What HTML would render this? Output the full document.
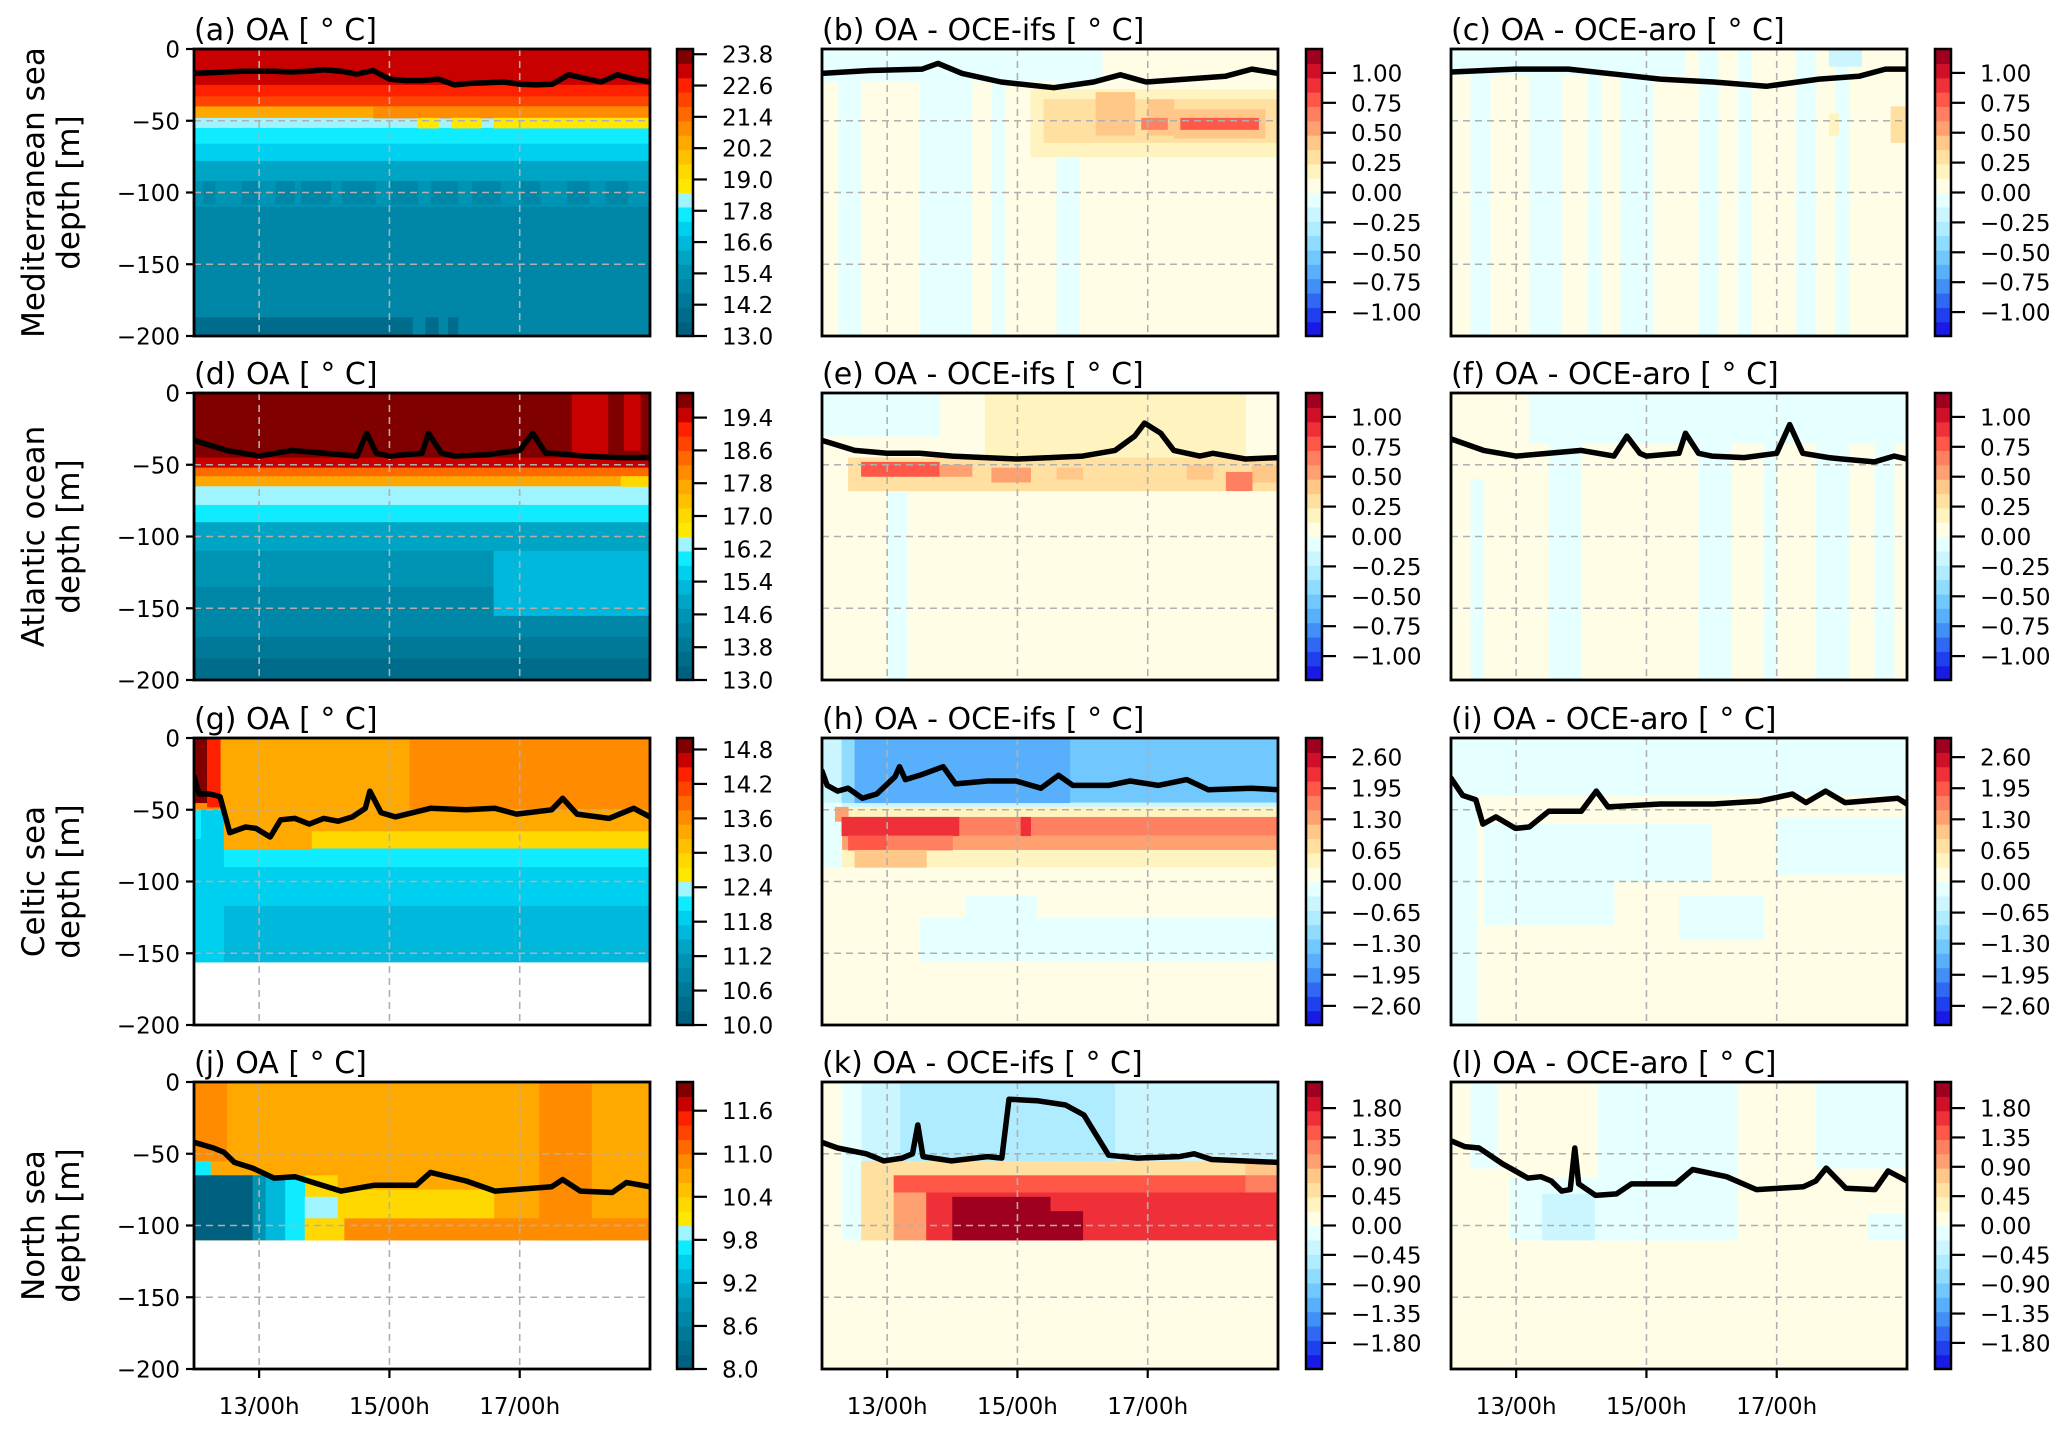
<!DOCTYPE html>
<html><head><meta charset="utf-8"><style>
html,body{margin:0;padding:0;background:#fff;}
svg{display:block;}
</style></head><body>
<svg id="fig" width="2067" height="1434" xmlns="http://www.w3.org/2000/svg" font-family="'DejaVu Sans','Liberation Sans',sans-serif"></svg>
<script>
// ---------- colormaps (styles) ----------
const OA_COLORS=['#00607f','#006c8c','#007898','#0086a6','#0094b4','#00a4c4','#00b8dc','#00d0f0','#10ecff','#a0f4ff','#ffe800','#ffd800','#ffc000','#ffa800','#ff8c00','#ff6a00','#ff4400','#ff2000','#c80000','#800000'];
const DIFF_COLORS=['#1a1ae6','#2040f0','#3068f4','#4090f8','#58b0fc','#70c8ff','#90dcff','#b0ecff','#ccf6ff','#e6ffff','#fffde6','#fff4c0','#ffe0a0','#ffc888','#ffa070','#ff8060','#ff5848','#f03038','#d01028','#a00020'];

// ---------- Panel (a) Mediterranean OA ----------
const aEdges=[0,25,33,40,48,55,66,78,92,110,187,200];
const aValues=[23.2,22.6,22.1,20.4,18.2,17.7,17.1,16.0,15.5,14.9,14.9];
const aPatches=[[14.75,19,40,48,21.0],[15.43,15.75,48,55,18.78],[15.95,16.4,48,55,18.78],[16.6,19,48,55,18.78],
[12.14,12.32,92,108,14.9],[12.73,12.97,92,108,14.9],[13.25,13.54,92,108,14.9],[13.64,14.1,92,108,14.9],[14.27,14.78,92,108,14.9],[15.02,15.43,92,108,14.9],[15.64,16.05,92,108,14.9],[16.27,16.7,92,108,14.9],[17.02,17.31,92,108,14.9],[17.73,18.06,92,108,14.9],[18.32,18.66,92,108,14.9],
[12,15.35,187,200,13.8],[15.55,15.75,187,200,13.8],[15.9,16.05,187,200,13.8]];
const aMldTimes=[12,12.25,12.5,12.75,13,13.25,13.5,13.75,14,14.25,14.5,14.75,15,15.25,15.5,15.75,16,16.25,16.5,16.75,17,17.25,17.5,17.75,18,18.25,18.5,18.75,19];
const aMldDepths=[17,16.5,16,15.5,15.5,15.5,16,15.5,14.5,15.5,17.5,15,21,22,22,21,25,24,23.5,23,24.5,25,24.5,18,20.5,23,18,21,23];
const aTicks=[13.0,14.2,15.4,16.6,17.8,19.0,20.2,21.4,22.6,23.8];

// ---------- Panel (b) ----------
const bEdges=[0,200];
const bValues=[0.06];
const bPatches=[[12,16.3,0,22,-0.06],[12.25,12.6,0,200,-0.06],[13.5,14.3,22,200,-0.06],[14.6,14.8,22,200,-0.06],[15.6,15.95,22,200,-0.06],
[15.2,19,28,75,0.18],[15.4,19,35,65,0.30],[16.2,16.8,30,60,0.42],[17.0,17.4,35,60,0.42],[17.4,18.8,42,62,0.42],[16.9,17.3,48,56,0.66],[17.5,18.7,48,56,0.78]];
const bMldTimes=[12,12.73,13.54,13.78,14.15,14.75,15.56,16.17,16.58,16.98,17.59,18.19,18.6,19];
const bMldDepths=[17,15,14,10,17,23,27,23,18,23,21,19,14,17];

// ---------- Panel (c) ----------
const cEdges=[0,200];
const cValues=[0.06];
const cPatches=[[12,15.6,0,18,-0.06],[12.3,12.6,18,200,-0.06],[13.2,13.7,18,200,-0.06],[14.1,14.3,18,200,-0.06],[14.6,15.1,18,200,-0.06],[15.8,16.1,0,200,-0.06],[16.4,16.6,0,200,-0.06],[17.3,17.6,0,200,-0.06],[17.9,18.1,12,200,-0.06],[17.8,18.3,0,12,-0.18],[18.75,19,40,65,0.30],[17.8,17.95,45,60,0.18]];
const cMldTimes=[12,12.99,13.8,14.61,15.21,16.03,16.84,17.65,18.26,18.67,19];
const cMldDepths=[16,14,14,18,21,23,26,21,19,14,14];
const diffTicks1=[-1.00,-0.75,-0.50,-0.25,0.00,0.25,0.50,0.75,1.00];

// ---------- Panel (d) Atlantic OA ----------
const dEdges=[0,45,52,58,65,78,90,110,135,170,185,200];
const dValues=[19.83,19.48,18.43,17.73,16.33,15.98,14.93,14.58,14.23,13.88,13.53];
const dPatches=[[17.8,18.35,0,45,19.48],[18.6,18.85,0,40,19.48],[18.55,19,58,65,17.03],[16.6,19,110,155,15.28]];
const dMldTimes=[12,12.5,13,13.5,14,14.5,14.65,14.8,15,15.5,15.6,15.8,16,16.5,17,17.2,17.4,17.5,18,18.5,19];
const dMldDepths=[33,40,44,40,42,44,28,42,44,42,28,42,44,43,40,28,42,42,44,45,45];
const dTicks=[13.0,13.8,14.6,15.4,16.2,17.0,17.8,18.6,19.4];

// ---------- Panel (e) ----------
const eEdges=[0,200];
const eValues=[0.06];
const ePatches=[[12,13.8,0,30,-0.06],[14.5,18.5,0,45,0.18],[13.0,13.3,68,200,-0.06],[12.4,19,45,68,0.30],[12.6,13.8,48,58,0.78],[13.8,14.3,50,58,0.54],[14.6,15.2,52,62,0.54],[15.6,16.0,52,60,0.42],[17.6,18.0,50,60,0.42],[18.6,19,50,62,0.42],[18.2,18.6,55,68,0.66]];
const eMldTimes=[12,12.5,13,13.5,14,14.5,15,15.5,16,16.5,16.8,16.95,17.2,17.4,17.8,18,18.5,19];
const eMldDepths=[33,40,42,42,44,45,46,45,44,40,30,21,28,40,44,42,46,45];

// ---------- Panel (f) ----------
const fEdges=[0,200];
const fValues=[0.06];
const fPatches=[[13.2,19,0,35,-0.06],[13.5,14.0,35,200,-0.06],[15.8,16.3,35,200,-0.06],[16.8,17.0,35,200,-0.06],[17.6,18.1,35,200,-0.06],[18.5,18.8,35,200,-0.06],[12.3,12.5,60,200,-0.06]];
const fMldTimes=[12,12.5,13,13.5,14,14.5,14.7,14.9,15,15.5,15.6,15.8,16,16.5,17,17.2,17.4,17.8,18,18.5,18.8,19];
const fMldDepths=[32,40,44,42,40,44,30,42,44,42,28,42,44,45,42,22,42,45,46,48,44,46];

// ---------- Panel (g) Celtic OA ----------
const gEdges=[0,50,65,77,90,117,140,156];
const gValues=[13.63,13.38,12.88,12.13,11.88,11.63,11.63];
const gPatches=[[12.4,15.3,0,50,13.38],[12,12.2,0,45,14.88],[12.2,12.4,0,48,14.38],[12.45,13.8,65,77,13.38],[12,12.45,50,156,11.88],[12,12.1,50,70,12.13]];
const gMldTimes=[12,12.08,12.24,12.33,12.4,12.55,12.79,12.95,13.17,13.33,13.55,13.77,13.99,14.21,14.43,14.63,14.7,14.87,15.09,15.63,16.18,16.62,16.95,17.49,17.66,17.88,18.37,18.75,19];
const gMldDepths=[27,39,39,40,41,66,62,63,69,57,56,60,56,58,55,49,37,52,55,49,50,49,53,50,42,53,56,49,55];
const gTicks=[10.0,10.6,11.2,11.8,12.4,13.0,13.6,14.2,14.8];

// ---------- Panel (h) ----------
const hEdges=[0,45,48,55,68,78,90,200];
const hValues=[-1.35,-0.45,0.45,1.65,1.35,0.45,0.15];
const hPatches=[[12,12.3,0,45,-0.45],[12.3,12.5,0,45,-1.0],[12.5,15.8,0,45,-1.65],[12,12.3,45,90,-0.15],[12.2,12.4,48,58,1.35],[12.3,14.1,55,68,2.25],[15.05,15.2,55,68,2.25],[12.4,13.0,68,78,1.95],[13.0,14.0,68,78,1.65],[12.5,13.6,78,90,1.05],[14.2,15.3,110,140,-0.15],[13.5,19,125,155,-0.15]];
const hMldTimes=[12,12.08,12.24,12.4,12.62,12.84,13.12,13.19,13.28,13.5,13.86,14.05,14.54,14.98,15.36,15.63,15.85,16.4,16.73,17.16,17.6,17.93,18.59,19];
const hMldDepths=[23,33,37,35,42,39,27,20,29,26,20,32,30,30,35,26,33,33,30,33,29,36,35,36];

// ---------- Panel (i) ----------
const iEdges=[0,200];
const iValues=[0.15];
const iPatches=[[12,19,0,40,-0.15],[12,12.4,40,200,-0.15],[12.5,14.5,60,130,-0.15],[14.5,16.0,60,100,-0.15],[17.0,19,55,95,-0.15],[15.5,16.8,110,140,-0.15]];
const iMldTimes=[12,12.18,12.38,12.49,12.69,12.99,13.2,13.5,14.0,14.23,14.41,15.22,16.03,16.74,17.24,17.45,17.75,18.05,18.86,19];
const iMldDepths=[28,40,43,60,55,63,62,51,51,37,48,46,46,44,39,45,37,45,42,46];
const diffTicks3=[-2.60,-1.95,-1.30,-0.65,0.00,0.65,1.30,1.95,2.60];

// ---------- Panel (j) North sea OA ----------
const jEdges=[0,110];
const jValues=[10.7];
const jPatches=[[12,12.5,0,55,10.9],[17.3,18.1,0,110,10.9],[13.3,14.2,65,80,10.3],[14.2,16.6,75,95,10.3],[14.3,19,95,110,10.9],[12,12.25,55,65,9.7],[12,12.9,65,110,8.1],[12.9,13.1,65,110,8.9],[13.1,13.4,65,110,9.3],[13.4,13.7,65,110,9.7],[13.7,14.2,80,95,9.9],[13.7,14.3,95,110,10.3]];
const jMldTimes=[12,12.3,12.46,12.62,12.9,13.23,13.55,13.83,14.26,14.76,15.41,15.63,16.18,16.62,17.49,17.66,17.93,18.42,18.64,19];
const jMldDepths=[42,46,49,56,60,67,66,70,76,72,72,63,69,76,73,68,76,77,70,73];
const jTicks=[8.0,8.6,9.2,9.8,10.4,11.0,11.6];

// ---------- Panel (k) ----------
const kEdges=[0,200];
const kValues=[0.11];
const kPatches=[[12.6,13.2,0,55,-0.33],[13.2,16.5,0,55,-0.55],[16.5,19,0,55,-0.33],[12.3,12.6,0,110,-0.11],[12.6,18.5,55,65,0.55],[18.5,19,55,65,0.77],[12.6,13.1,65,110,0.55],[13.1,18.5,65,77,1.43],[18.5,19,65,77,1.21],[13.1,13.6,77,110,0.99],[13.6,19,77,110,1.65],[14.0,15.5,80,110,2.09],[15.5,16.0,90,110,2.09]];
const kMldTimes=[12,12.24,12.68,12.95,13.23,13.39,13.47,13.55,13.99,14.54,14.76,14.87,15.3,15.74,16.02,16.4,16.84,17.49,17.71,17.98,19];
const kMldDepths=[42,46,50,55,53,50,30,52,55,52,53,12,13,16,23,51,53,52,50,54,56];

// ---------- Panel (l) ----------
const lEdges=[0,200];
const lValues=[0.11];
const lPatches=[[12.3,12.7,0,60,-0.11],[14.25,16.4,0,110,-0.11],[17.6,19,0,60,-0.11],[12.9,16.3,67,110,-0.11],[13.4,14.2,78,110,-0.33],[18.4,19,92,110,-0.11]];
const lMldTimes=[12,12.21,12.43,12.53,12.79,13.18,13.38,13.54,13.7,13.83,13.9,13.96,14.22,14.54,14.77,15.45,15.71,16.23,16.69,17.41,17.6,17.76,18.06,18.51,18.71,19];
const lMldDepths=[41,45,46,49,57,67,66,69,76,75,46,71,79,78,71,71,61,66,75,73,69,60,74,75,62,69];
const diffTicks4=[-1.80,-1.35,-0.90,-0.45,0.00,0.45,0.90,1.35,1.80];

// ---------- axes data ----------
const xTickDays=[13,15,17];
const xTickLabels=['13/00h','15/00h','17/00h'];
const yTickDepths=[0,50,100,150,200];
const rowLabels=[['Mediterranean sea','depth [m]'],['Atlantic ocean','depth [m]'],['Celtic sea','depth [m]'],['North sea','depth [m]']];

// ---------- layout ----------
const T0=12,T1=19,DMAX=200;
const colLeft=[194,822,1451], rowTop=[49,393,738,1082], W=456, H=287;
const cbLeft=[677,1306,1935], cbW=16;
const NS='http://www.w3.org/2000/svg';
const svg=document.getElementById('fig');

const panels=[
 {id:'a',row:0,col:0,title:'(a) OA',kind:'oa',vmin:13,vmax:24,ticks:aTicks,dec:1,edges:aEdges,values:aValues,patches:aPatches,mt:aMldTimes,md:aMldDepths},
 {id:'b',row:0,col:1,title:'(b) OA - OCE-ifs',kind:'diff',vmin:-1.2,vmax:1.2,ticks:diffTicks1,dec:2,edges:bEdges,values:bValues,patches:bPatches,mt:bMldTimes,md:bMldDepths},
 {id:'c',row:0,col:2,title:'(c) OA - OCE-aro',kind:'diff',vmin:-1.2,vmax:1.2,ticks:diffTicks1,dec:2,edges:cEdges,values:cValues,patches:cPatches,mt:cMldTimes,md:cMldDepths},
 {id:'d',row:1,col:0,title:'(d) OA',kind:'oa',vmin:13,vmax:20,ticks:dTicks,dec:1,edges:dEdges,values:dValues,patches:dPatches,mt:dMldTimes,md:dMldDepths},
 {id:'e',row:1,col:1,title:'(e) OA - OCE-ifs',kind:'diff',vmin:-1.2,vmax:1.2,ticks:diffTicks1,dec:2,edges:eEdges,values:eValues,patches:ePatches,mt:eMldTimes,md:eMldDepths},
 {id:'f',row:1,col:2,title:'(f) OA - OCE-aro',kind:'diff',vmin:-1.2,vmax:1.2,ticks:diffTicks1,dec:2,edges:fEdges,values:fValues,patches:fPatches,mt:fMldTimes,md:fMldDepths},
 {id:'g',row:2,col:0,title:'(g) OA',kind:'oa',vmin:10,vmax:15,ticks:gTicks,dec:1,edges:gEdges,values:gValues,patches:gPatches,mt:gMldTimes,md:gMldDepths},
 {id:'h',row:2,col:1,title:'(h) OA - OCE-ifs',kind:'diff',vmin:-3,vmax:3,ticks:diffTicks3,dec:2,edges:hEdges,values:hValues,patches:hPatches,mt:hMldTimes,md:hMldDepths},
 {id:'i',row:2,col:2,title:'(i) OA - OCE-aro',kind:'diff',vmin:-3,vmax:3,ticks:diffTicks3,dec:2,edges:iEdges,values:iValues,patches:iPatches,mt:iMldTimes,md:iMldDepths},
 {id:'j',row:3,col:0,title:'(j) OA',kind:'oa',vmin:8,vmax:12,ticks:jTicks,dec:1,edges:jEdges,values:jValues,patches:jPatches,mt:jMldTimes,md:jMldDepths},
 {id:'k',row:3,col:1,title:'(k) OA - OCE-ifs',kind:'diff',vmin:-2.2,vmax:2.2,ticks:diffTicks4,dec:2,edges:kEdges,values:kValues,patches:kPatches,mt:kMldTimes,md:kMldDepths},
 {id:'l',row:3,col:2,title:'(l) OA - OCE-aro',kind:'diff',vmin:-2.2,vmax:2.2,ticks:diffTicks4,dec:2,edges:lEdges,values:lValues,patches:lPatches,mt:lMldTimes,md:lMldDepths}
];

function mk(tag,attrs,parent){const e=document.createElementNS(NS,tag);for(const k in attrs)e.setAttribute(k,attrs[k]);(parent||svg).appendChild(e);return e;}
function fmt(v,d){return v.toFixed(d).replace('-','\u2212');}

panels.forEach(p=>{
  const L=colLeft[p.col],T=rowTop[p.row];
  const xs=t=>L+(t-T0)/(T1-T0)*W;
  const ys=d=>T+d/DMAX*H;
  const cols=p.kind==='oa'?OA_COLORS:DIFF_COLORS;
  const color=v=>{let i=Math.floor((v-p.vmin)/(p.vmax-p.vmin)*cols.length);i=Math.max(0,Math.min(cols.length-1,i));return cols[i];};
  const g=mk('g',{});
  
  
  const clipId='clip'+p.id;
  const cp=mk('clipPath',{id:clipId},g);mk('rect',{x:L,y:T,width:W,height:H},cp);
  const hm=mk('g',{'clip-path':'url(#'+clipId+')'},g);
  
  
  p.values.forEach((v,i)=>{
    const y0=ys(p.edges[i]),y1=ys(p.edges[i+1]);
    const r=mk('rect',{x:xs(T0),y:y0,width:xs(T1)-xs(T0),height:y1-y0+0.5,fill:color(v)},hm);
    
    
  });
  p.patches.forEach((q,i)=>{
    const r=mk('rect',{x:xs(q[0]),y:ys(q[2]),width:xs(q[1])-xs(q[0])+0.5,height:ys(q[3])-ys(q[2])+0.5,fill:color(q[4])},hm);
    
    
  });
  xTickDays.forEach(t=>{const l=mk('line',{x1:xs(t),x2:xs(t),y1:T,y2:T+H,stroke:'#b0b0b0','stroke-width':1.6,'stroke-dasharray':'7,5'},g);
    
    });
  [50,100,150].forEach(d=>{const l=mk('line',{x1:L,x2:L+W,y1:ys(d),y2:ys(d),stroke:'#b0b0b0','stroke-width':1.6,'stroke-dasharray':'7,5'},g);
    
    });
  const pts=p.mt.map((t,i)=>xs(t).toFixed(1)+','+ys(p.md[i]).toFixed(1)).join(' ');
  const ml=mk('polyline',{points:pts,fill:'none',stroke:'#000','stroke-width':5.5,'stroke-linejoin':'round','stroke-linecap':'round','clip-path':'url(#'+clipId+')'},g);
  
  
  const fr=mk('rect',{x:L,y:T,width:W,height:H,fill:'none',stroke:'#000','stroke-width':2.8},g);
  
  
  const tt=mk('text',{x:L,y:T-9,'font-size':30,fill:'#000'},g);
  tt.textContent=p.title+' [ \u00B0 C]';
  
  
  if(p.col===0){
    yTickDepths.forEach(d=>{
      mk('line',{x1:L-8,x2:L,y1:ys(d),y2:ys(d),stroke:'#000','stroke-width':2.2},g);
      const tl=mk('text',{x:L-14,y:ys(d)+8.5,'font-size':23,'text-anchor':'end'},g);
      tl.textContent=d===0?'0':'\u2212'+d;
      
      
    });
    const cy=T+H/2;
    rowLabels[p.row].forEach((s,k)=>{
      const bx=k===0?44:79;
      const yl=mk('text',{x:bx,y:cy,'font-size':31,'text-anchor':'middle',transform:'rotate(-90 '+bx+' '+cy+')'},g);
      yl.textContent=s;
      
      
    });
  }
  if(p.row===3){
    xTickDays.forEach((t,k)=>{
      mk('line',{x1:xs(t),x2:xs(t),y1:T+H,y2:T+H+9,stroke:'#000','stroke-width':2.2},g);
      const xl=mk('text',{x:xs(t),y:T+H+45,'font-size':23,'text-anchor':'middle'},g);
      xl.textContent=xTickLabels[k];
      
      
    });
  }
  const cb=mk('g',{},g);
  
  
  const CX=cbLeft[p.col],n=cols.length;
  cols.forEach((c,i)=>{mk('rect',{x:CX,y:T+H-(i+1)*H/n,width:cbW,height:H/n+0.6,fill:c},cb);});
  mk('rect',{x:CX,y:T,width:cbW,height:H,fill:'none',stroke:'#000','stroke-width':2.5},cb);
  p.ticks.forEach(v=>{
    const y=T+H-(v-p.vmin)/(p.vmax-p.vmin)*H;
    mk('line',{x1:CX+cbW,x2:CX+cbW+14,y1:y,y2:y,stroke:'#000','stroke-width':2.2},cb);
    const ct=mk('text',{x:CX+cbW+29,y:y+8.5,'font-size':23},cb);
    ct.textContent=fmt(v,p.dec);
    
    
  });
});
</script>
</body></html>
